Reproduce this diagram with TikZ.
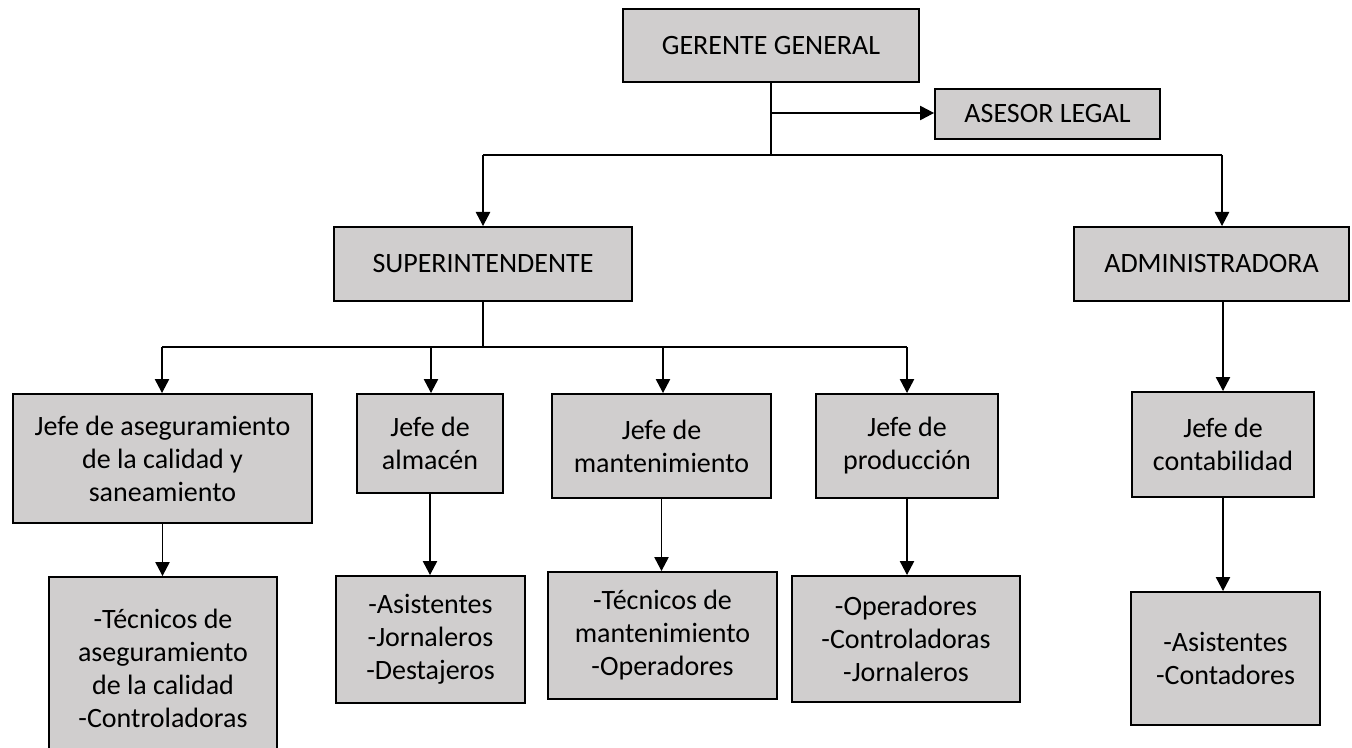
\documentclass[tikz,border=0pt]{standalone}
\usepackage{fontspec}
\setmainfont{Carlito}
\usepackage{xcolor}
\usetikzlibrary{arrows.meta,positioning}

\definecolor{boxgray}{RGB}{208,206,206}

\begin{document}
\begin{tikzpicture}[
		x=0.5pt,
		y=-0.5pt,
		line cap=butt,
		line join=miter,
		unit/.style={
			draw=black,
			fill=boxgray,
			line width=1pt,
			align=center,
			inner sep=0pt,
			font=\fontsize{14}{16.5}\selectfont
		},
		link/.style={
			draw=black,
			line width=0.6pt
		},
		down/.style={
			link,
			-{Triangle[length=7pt,width=7.2pt]}
		}
		]
		
		% page
		\useasboundingbox (0,0) rectangle (1352,748);
		
		% top level
		\node[unit,minimum width=148pt,minimum height=36.5pt] (gg) at (771,45.5) {GERENTE GENERAL};
		\node[unit,minimum width=112.5pt,minimum height=25pt] (asesor) at (1047.5,114) {ASESOR LEGAL};
		
		% second level
		\node[unit,minimum width=149pt,minimum height=37pt] (super) at (483,264) {SUPERINTENDENTE};
		\node[unit,minimum width=137.5pt,minimum height=37pt] (admin) at (1211.5,264) {ADMINISTRADORA};
		
		% jefes
		\node[unit,minimum width=149.5pt,minimum height=64.5pt] (jcal) at (162.5,458.5) {Jefe de aseguramiento\\de la calidad y\\saneamiento};
		\node[unit,minimum width=73pt,minimum height=49.5pt] (jalm) at (430,443.5) {Jefe de\\almacén};
		\node[unit,minimum width=109.5pt,minimum height=52pt] (jman) at (661.5,446) {Jefe de\\mantenimiento};
		\node[unit,minimum width=91pt,minimum height=52pt] (jpro) at (907,446) {Jefe de\\producción};
		\node[unit,minimum width=91pt,minimum height=52.5pt] (jcon) at (1223,444.5) {Jefe de\\contabilidad};
		
		% personal
		\node[unit,minimum width=114pt,minimum height=91.5pt] (pcal) at (163,668.5) {-Técnicos de\\aseguramiento\\de la calidad\\-Controladoras};
		\node[unit,minimum width=94.5pt,minimum height=63.5pt] (palm) at (430.5,639.5) {-Asistentes\\-Jornaleros\\-Destajeros};
		\node[unit,minimum width=114.5pt,minimum height=63.5pt] (pman) at (662.5,635.5) {-Técnicos de\\mantenimiento\\-Operadores};
		\node[unit,minimum width=114pt,minimum height=63pt] (ppro) at (906,639) {-Operadores\\-Controladoras\\-Jornaleros};
		\node[unit,minimum width=94.5pt,minimum height=66.5pt] (pcon) at (1225.5,658.5) {-Asistentes\\-Contadores};
		
		% branch points
		\coordinate (j1) at (771,155);
		\coordinate (ja) at (771,113);
		\coordinate (l1) at (483,155);
		\coordinate (r1) at (1222,155);
		\coordinate (j2) at (483,347);
		\coordinate (l2) at (162,347);
		\coordinate (m2) at (431,347);
		\coordinate (n2) at (663,347);
		\coordinate (r2) at (907,347);
		
		% gerente
		\draw[link] (gg.south -| j1) -- (j1);
		\draw[down] (ja) -- (asesor.west |- ja);
		\draw[link] (l1) -- (r1);
		\draw[down] (l1) -- (l1 |- super.north);
		\draw[down] (r1) -- (r1 |- admin.north);
		
		% superintendente
		\draw[link] (super.south) -- (j2);
		\draw[link] (l2) -- (r2);
		\draw[down] (l2) -- (l2 |- jcal.north);
		\draw[down] (m2) -- (m2 |- jalm.north);
		\draw[down] (n2) -- (n2 |- jman.north);
		\draw[down] (r2) -- (r2 |- jpro.north);
		
		% administradora
		\draw[down] (jcon |- admin.south) -- (jcon.north);
		
		% jefes to personal
		\draw[down] (jcal.south) -- (jcal.south |- pcal.north);
		\draw[down] (jalm.south) -- (jalm.south |- palm.north);
		\draw[down] (jman.south) -- (jman.south |- pman.north);
		\draw[down] (jpro.south) -- (jpro.south |- ppro.north);
		\draw[down] (jcon.south) -- (jcon.south |- pcon.north);
\end{tikzpicture}
\end{document}
